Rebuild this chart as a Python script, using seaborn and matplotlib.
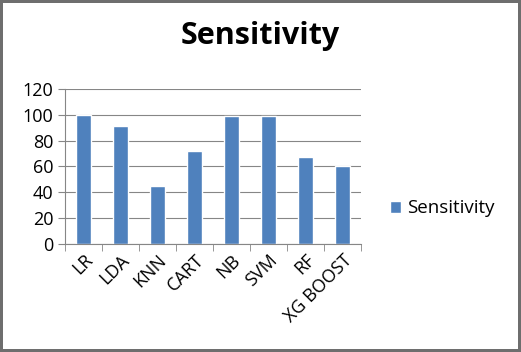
import pandas as pd
import matplotlib.pyplot as plt
import seaborn as sns

# 資料
models = ['LR', 'LDA', 'KNN', 'CART', 'NB', 'SVM', 'RF', 'XG BOOST']
sensitivity = [100, 91, 45, 72, 99, 99, 67, 60]
series_name = 'Sensitivity'

df = pd.DataFrame({'model': models, 'value': sensitivity, 'series': series_name})

sns.set_style('white')
plt.rcParams['font.family'] = ['Open Sans', 'DejaVu Sans']
plt.rcParams['text.color'] = 'black'
plt.rcParams['xtick.labelcolor'] = 'black'
plt.rcParams['ytick.labelcolor'] = 'black'

fig = plt.figure(figsize=(5.21, 3.52), dpi=100)
fig.patch.set_edgecolor('#6e6e6e')
fig.patch.set_linewidth(3)
ax = fig.add_axes([0.125, 0.307, 0.568, 0.44])

sns.barplot(data=df, x='model', y='value', hue='series', palette=['#4F81BD'],
            width=0.4, ax=ax, saturation=1)

ax.set_ylim(0, 120)
ax.set_yticks(range(0, 121, 20))
ax.set_xlim(-0.5, len(models) - 0.5)
ax.yaxis.grid(True, color='#868686', linewidth=0.8)
ax.set_axisbelow(True)
for s in ['top', 'right']:
    ax.spines[s].set_visible(False)
ax.spines['left'].set_color('#868686')
ax.spines['bottom'].set_color('#868686')
ax.set_xlabel('')
ax.set_ylabel('')

# 類別間的刻度
ax.set_xticks([i + 0.5 for i in range(-1, len(models))], minor=True)
ax.tick_params(axis='x', which='minor', length=5, color='#868686', direction='out', bottom=True)
ax.tick_params(axis='x', which='major', length=0, labelsize=13, pad=5, labelcolor='black')
ax.tick_params(axis='y', length=5, color='#868686', direction='out', left=True, labelsize=13,
               labelcolor='black')
plt.setp(ax.get_xticklabels(), rotation=45, ha='right', rotation_mode='anchor')

fig.suptitle('Sensitivity', x=0.5, y=0.94, fontsize=22, fontweight='bold', color='black')

leg = ax.legend(loc='center left', bbox_to_anchor=(1.04, 0.23), frameon=False,
                fontsize=13.5, handlelength=0.6, handleheight=0.6, handletextpad=0.3)
for t in leg.get_texts():
    t.set_color('black')

fig.savefig('out.png', dpi=100)
